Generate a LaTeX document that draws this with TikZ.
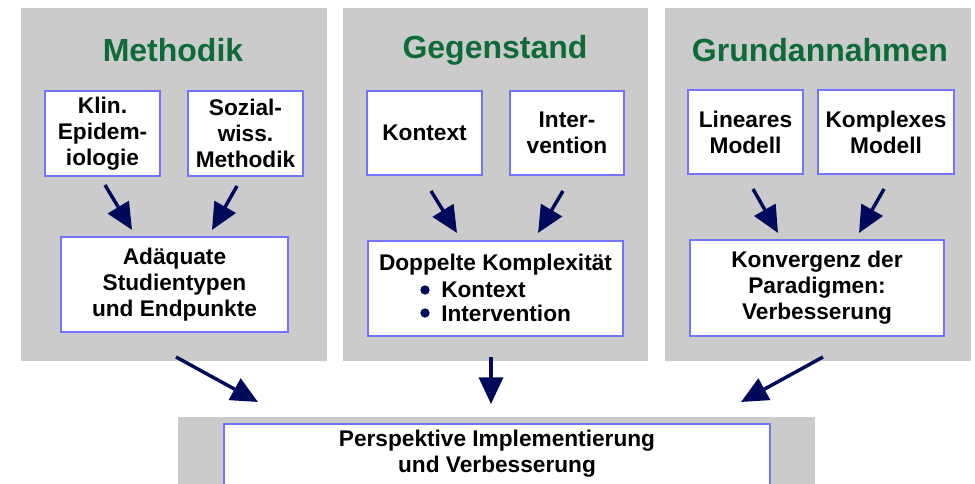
\documentclass[tikz,border=0pt]{standalone}
\usepackage{fontspec}
\setmainfont{Liberation Sans}
\usetikzlibrary{arrows.meta}
\definecolor{panelgray}{HTML}{CBCBCB}
\definecolor{boxblue}{HTML}{7373FF}
\definecolor{titlegreen}{HTML}{0E6B38}
\definecolor{navy}{HTML}{000A5A}
\tikzset{
  box/.style={draw=boxblue, line width=2pt, fill=white, inner sep=0pt, align=center,
    font=\fontsize{17}{19.5}\selectfont\bfseries},
  txt/.style={inner sep=0pt, align=center, font=\fontsize{17}{19.5}\selectfont\bfseries},
  ttl/.style={inner sep=0pt, text=titlegreen, font=\fontsize{24}{28}\selectfont\bfseries},
  arr/.style={draw=navy, line width=2.6pt, -{Triangle[length=20pt,width=18pt]}},
  bul/.style={circle, fill=navy, minimum size=7pt, inner sep=0pt}
}
\begin{document}
\begin{tikzpicture}[x=0.75pt,y=-0.75pt]
\useasboundingbox (0,0) rectangle (975,484);
\clip (0,0) rectangle (975,484);
\fill[white] (0,0) rectangle (975,484);
% panels
\fill[panelgray] (21,8) rectangle (327,361);
\fill[panelgray] (343,8) rectangle (648,361);
\fill[panelgray] (665,8) rectangle (971,361);
\fill[panelgray] (178,417) rectangle (815,490);
% titles
\node[ttl] (t1) at (173,50) {Methodik};
\node[ttl] (t2) at (495,50) {Gegenstand};
\node[ttl] (t3) at (820,50) {Grundannahmen};
% Methodik
\node[box, minimum width=86.25pt, minimum height=63.75pt] (klin) at (102.5,133.5) {Klin.\\Epidem-\\iologie};
\node[box, minimum width=86.25pt, minimum height=63.75pt] (sozial) at (245.5,133.5) {Sozial-\\wiss.\\Methodik};
\node[box, minimum width=170.25pt, minimum height=71.25pt] (adaq) at (174.5,284.5) {Adäquate\\Studientypen\\und Endpunkte};
% Gegenstand
\node[box, minimum width=86.25pt, minimum height=63pt] (kontext) at (424.5,133) {Kontext};
\node[box, minimum width=85.5pt, minimum height=63pt] (inter) at (567,133) {Inter-\\vention};
\node[box, minimum width=191.25pt, minimum height=71.25pt] (doppelt) at (495.5,288.5) {};
\node[txt] (dtitle) at (495.5,265) {Doppelte Komplexität};
\node[bul] (b1) at (425,290) {};
\node[bul] (b2) at (425,313) {};
\node[txt, anchor=west] (dk1) at (441,290) {Kontext};
\node[txt, anchor=west] (dk2) at (441,313) {Intervention};
% Grundannahmen
\node[box, minimum width=86.25pt, minimum height=63pt] (linear) at (745.5,132) {Lineares\\Modell};
\node[box, minimum width=102pt, minimum height=63pt] (komplex) at (886,132) {Komplexes\\Modell};
\node[box, minimum width=190.5pt, minimum height=72pt] (konv) at (817,288) {Konvergenz der\\Paradigmen:\\Verbesserung};
% bottom
\node[box, minimum width=409.5pt, minimum height=60pt] (persp) at (497,464) {};
\node[txt] (ptext) at (497,454) {Perspektive Implementierung\\und Verbesserung};
% arrow ends
\coordinate (m1s) at (105,185); \coordinate (m1e) at (132,230);
\coordinate (m2s) at (237,186); \coordinate (m2e) at (212,230);
\coordinate (g1s) at (431,191); \coordinate (g1e) at (457,233);
\coordinate (g2s) at (563,191); \coordinate (g2e) at (538,233);
\coordinate (r1s) at (753,189); \coordinate (r1e) at (778,233);
\coordinate (r2s) at (884,189); \coordinate (r2e) at (859,233);
\coordinate (b1s) at (176,357); \coordinate (b1e) at (258,402);
\coordinate (b2s) at (491,357); \coordinate (b2e) at (491,404);
\coordinate (b3s) at (823,357); \coordinate (b3e) at (741,402);
\draw[arr] (m1s) -- (m1e);
\draw[arr] (m2s) -- (m2e);
\draw[arr] (g1s) -- (g1e);
\draw[arr] (g2s) -- (g2e);
\draw[arr] (r1s) -- (r1e);
\draw[arr] (r2s) -- (r2e);
\draw[arr] (b1s) -- (b1e);
\draw[arr] (b2s) -- (b2e);
\draw[arr] (b3s) -- (b3e);
\end{tikzpicture}
\end{document}
